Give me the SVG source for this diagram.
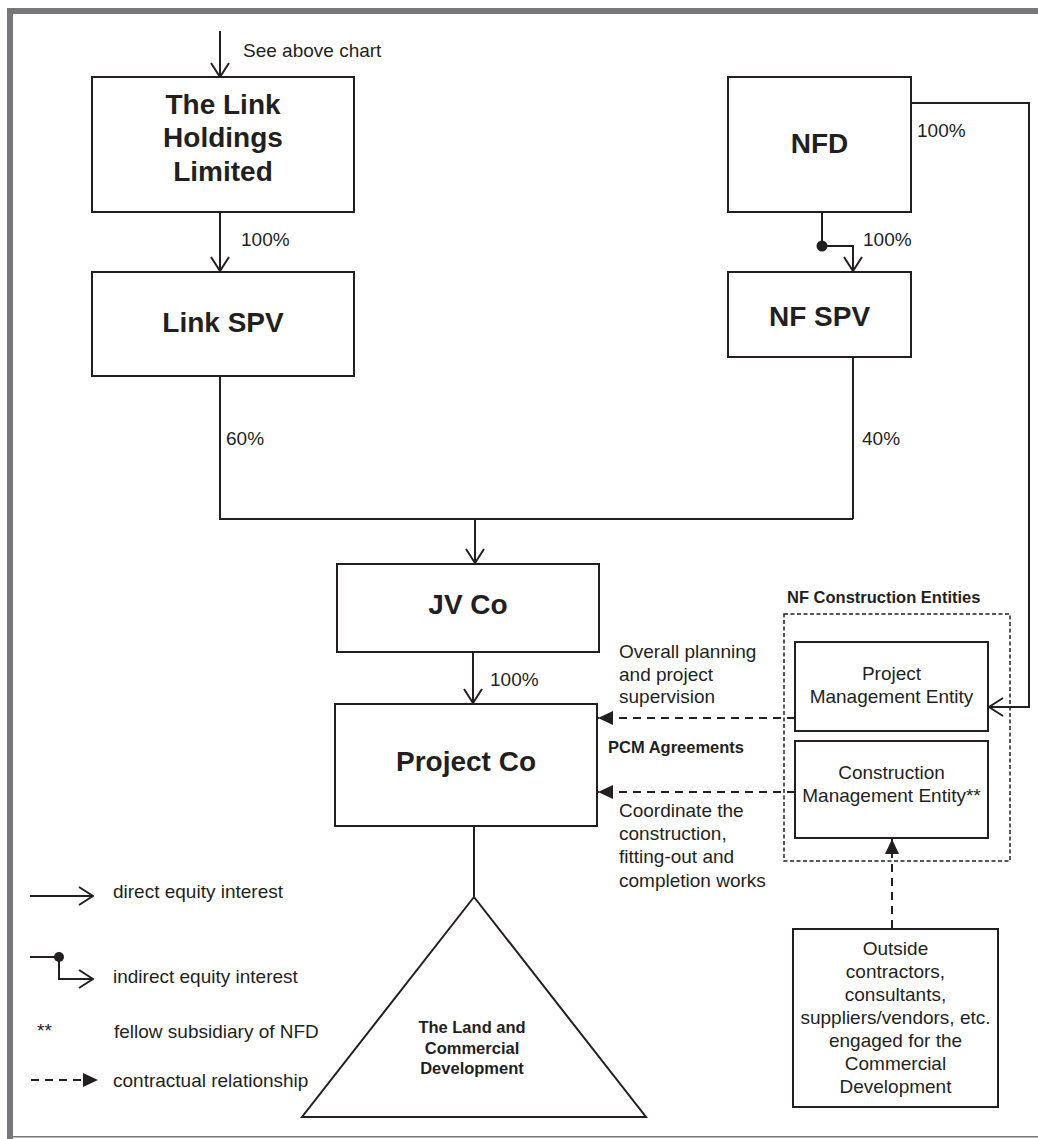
<svg xmlns="http://www.w3.org/2000/svg" width="1038" height="1139" viewBox="0 0 1038 1139">
<style>
  .box{fill:#fff;stroke:#231f20;stroke-width:2}
  .ln{fill:none;stroke:#231f20;stroke-width:2}
  .dash{fill:none;stroke:#231f20;stroke-width:2;stroke-dasharray:8 6}
  .dbox{fill:none;stroke:#231f20;stroke-width:1.5;stroke-dasharray:4 2.5}
  text{font-family:"Liberation Sans",Arial,sans-serif;fill:#231f20}
  .t{font-size:28px;font-weight:bold;text-anchor:middle}
  .r{font-size:19px}
  .rc{font-size:19px;text-anchor:middle}
  .b{font-size:16.5px;font-weight:bold}
  .bc{font-size:16.5px;font-weight:bold;text-anchor:middle}
</style>
<defs>
  <marker id="open" viewBox="0 0 16 20" refX="15" refY="10" markerWidth="16" markerHeight="20" orient="auto" markerUnits="userSpaceOnUse">
    <path d="M1,1 L15,10 L1,19" fill="none" stroke="#231f20" stroke-width="2"/>
  </marker>
  <marker id="solid" viewBox="0 0 15 14" refX="15" refY="7" markerWidth="15" markerHeight="14" orient="auto" markerUnits="userSpaceOnUse">
    <path d="M0,0 L15,7 L0,14 z" fill="#231f20"/>
  </marker>
</defs>
<rect x="0" y="0" width="1038" height="1139" fill="#fff"/>
<g id="frame" fill="#77777b">
  <rect x="7" y="8" width="1031" height="6"/>
  <rect x="7" y="8" width="6" height="1131"/>
  <rect x="7" y="1136" width="1031" height="1.5"/>
</g>

<g id="connectors">
  <line class="ln" x1="220" y1="31" x2="220" y2="77" marker-end="url(#open)"/>
  <line class="ln" x1="220" y1="212" x2="220" y2="271" marker-end="url(#open)"/>
  <polyline class="ln" points="220,376 220,519 853,519"/>
  <line class="ln" x1="853" y1="357" x2="853" y2="519"/>
  <line class="ln" x1="475" y1="519" x2="475" y2="563" marker-end="url(#open)"/>
  <polyline class="ln" points="822,212 822,246 853,246 853,271" marker-end="url(#open)"/>
  <circle cx="822" cy="246" r="5.5" fill="#231f20"/>
  <polyline class="ln" points="911,103 1029,103 1029,707 989,707" marker-end="url(#open)"/>
  <line class="ln" x1="473" y1="652" x2="473" y2="703" marker-end="url(#open)"/>
  <line class="ln" x1="474" y1="826" x2="474" y2="897"/>
  <line class="dash" x1="795" y1="718" x2="598" y2="718" marker-end="url(#solid)"/>
  <line class="dash" x1="795" y1="792" x2="598" y2="792" marker-end="url(#solid)"/>
  <line class="dash" x1="892" y1="928" x2="892" y2="839" marker-end="url(#solid)"/>
</g>

<g id="labels">
  <text class="r" x="243" y="57">See above chart</text>
  <text class="r" x="241" y="246">100%</text>
  <text class="r" x="863" y="246">100%</text>
  <text class="r" x="917" y="137">100%</text>
  <text class="r" x="226" y="445">60%</text>
  <text class="r" x="862" y="445">40%</text>
  <text class="r" x="490" y="686">100%</text>
  <text class="r" x="619" y="658">Overall planning</text>
  <text class="r" x="619" y="681">and project</text>
  <text class="r" x="619" y="703">supervision</text>
  <text class="b" x="608" y="753">PCM Agreements</text>
  <text class="r" x="619" y="817">Coordinate the</text>
  <text class="r" x="619" y="840">construction,</text>
  <text class="r" x="619" y="863">fitting-out and</text>
  <text class="r" x="619" y="887">completion works</text>
</g>

<g id="link-holdings">
  <rect class="box" x="92" y="77" width="262" height="135"/>
  <text class="t" x="223" y="114">The Link</text>
  <text class="t" x="223" y="147">Holdings</text>
  <text class="t" x="223" y="181">Limited</text>
</g>
<g id="nfd">
  <rect class="box" x="728" y="77" width="183" height="135"/>
  <text class="t" x="819.5" y="153">NFD</text>
</g>
<g id="link-spv">
  <rect class="box" x="92" y="272" width="262" height="104"/>
  <text class="t" x="223" y="332">Link SPV</text>
</g>
<g id="nf-spv">
  <rect class="box" x="728" y="272" width="183" height="85"/>
  <text class="t" x="819.5" y="326">NF SPV</text>
</g>
<g id="jv-co">
  <rect class="box" x="337" y="564" width="262" height="88"/>
  <text class="t" x="468" y="614">JV Co</text>
</g>
<g id="project-co">
  <rect class="box" x="335" y="704" width="262" height="122"/>
  <text class="t" x="466" y="771">Project Co</text>
</g>
<g id="land">
  <polygon class="box" points="474,897 302,1117 646,1117"/>
  <text class="bc" x="472" y="1033">The Land and</text>
  <text class="bc" x="472" y="1054">Commercial</text>
  <text class="bc" x="472" y="1074">Development</text>
</g>
<g id="nf-construction-entities">
  <text class="b" x="787" y="603">NF Construction Entities</text>
  <rect class="dbox" x="784" y="614" width="226" height="247"/>
</g>
<g id="project-management-entity">
  <rect class="box" x="795" y="642" width="193" height="89"/>
  <text class="rc" x="891.5" y="680">Project</text>
  <text class="rc" x="891.5" y="703">Management Entity</text>
</g>
<g id="construction-management-entity">
  <rect class="box" x="795" y="741" width="193" height="97"/>
  <text class="rc" x="891.5" y="779">Construction</text>
  <text class="rc" x="891.5" y="802">Management Entity**</text>
</g>
<g id="outside-contractors">
  <rect class="box" x="793" y="929" width="205" height="178"/>
  <text class="rc" x="895.5" y="955">Outside</text>
  <text class="rc" x="895.5" y="978">contractors,</text>
  <text class="rc" x="895.5" y="1001">consultants,</text>
  <text class="rc" x="895.5" y="1024">suppliers/vendors, etc.</text>
  <text class="rc" x="895.5" y="1047">engaged for the</text>
  <text class="rc" x="895.5" y="1070">Commercial</text>
  <text class="rc" x="895.5" y="1093">Development</text>
</g>

<g id="legend">
  <line class="ln" x1="30" y1="896" x2="93" y2="896" marker-end="url(#open)"/>
  <text class="r" x="113" y="898">direct equity interest</text>
  <polyline class="ln" points="30,957 59,957 59,979 93,979" marker-end="url(#open)"/>
  <circle cx="59" cy="957" r="5" fill="#231f20"/>
  <text class="r" x="113" y="983">indirect equity interest</text>
  <text class="r" x="37" y="1037">**</text>
  <text class="r" x="114" y="1038">fellow subsidiary of NFD</text>
  <line class="dash" x1="31" y1="1080" x2="98" y2="1080" stroke-dasharray="10 6" marker-end="url(#solid)"/>
  <text class="r" x="113" y="1087">contractual relationship</text>
</g>
</svg>
